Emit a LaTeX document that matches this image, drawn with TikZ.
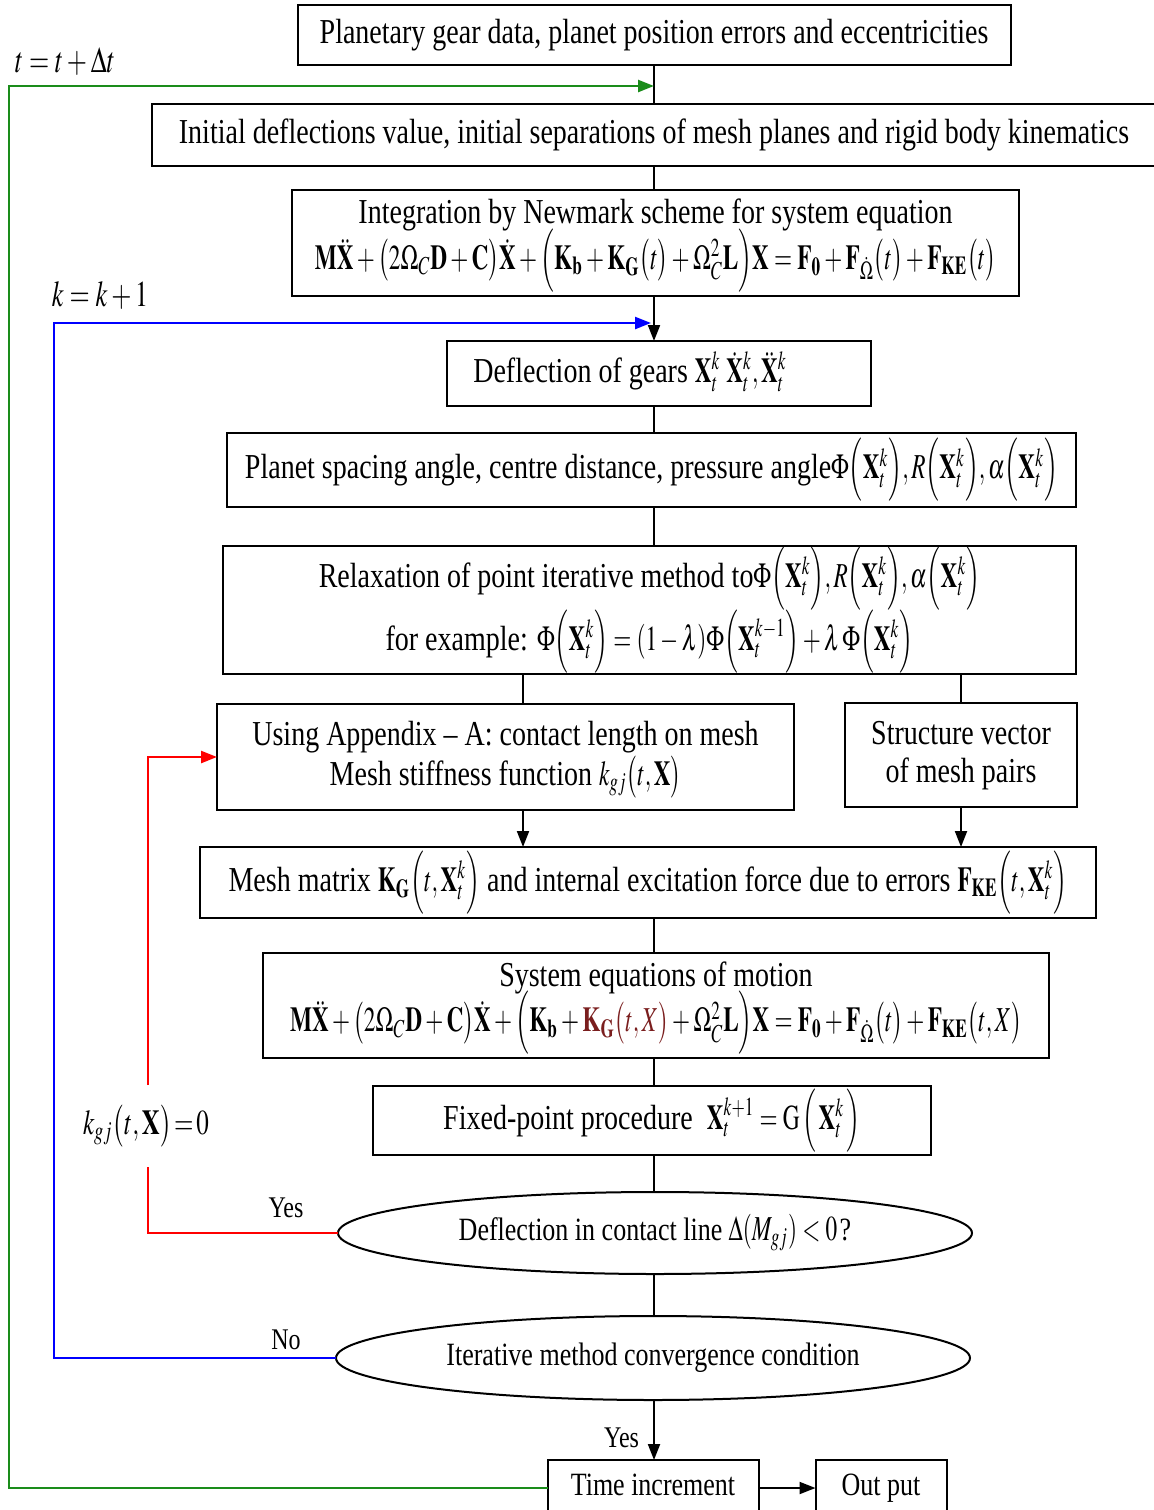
\documentclass[tikz,border=0pt]{standalone}
\usepackage{mathptmx}
\usepackage[no-math]{fontspec}
\setmainfont{Liberation Serif}
\usepackage{graphicx}
\usetikzlibrary{positioning,arrows.meta,shapes.geometric}
\definecolor{loopGreen}{HTML}{1A8C1A}
\definecolor{loopBlue}{HTML}{0000FF}
\definecolor{loopRed}{HTML}{FF0000}
\definecolor{kgRed}{HTML}{7A1E1E}
\newcommand{\tallt}[2][1.25]{\scalebox{1}[#1]{\begin{tabular}{@{}c@{}}#2\end{tabular}}}
\newcommand{\mth}[1]{\scalebox{0.93}[1.12]{\fontsize{12.5}{15}\selectfont\(#1\)}}
\newcommand{\Xtk}{\mathbf{X}_t^k}

\begin{document}
\begin{tikzpicture}[x=0.5pt, y=-0.5pt, >={Triangle[length=8pt,width=6pt]}, line width=1pt,
          box/.style={draw, line width=1pt, inner sep=0pt, outer sep=0pt, font=\fontsize{14}{17}\selectfont},
          oval/.style={ellipse, draw, line width=1pt, inner sep=0pt, outer sep=0pt, minimum width=317pt, font=\fontsize{13}{15}\selectfont},
          lbl/.style={inner sep=1pt, font=\fontsize{12}{14}\selectfont},
          eqlbl/.style={inner sep=1pt, font=\fontsize{13}{15}\selectfont},
          gline/.style={draw=loopGreen, line width=1.2pt},
          bline/.style={draw=loopBlue, line width=1.2pt},
          rline/.style={draw=loopRed, line width=1.2pt}]
        \useasboundingbox (0,0) rectangle (1154,1510);
        \coordinate (spine) at (654,0);
        \node[box, minimum width=356.5pt, minimum height=30pt] (dat) at (654,35) {\tallt{Planetary gear data, planet position errors and eccentricities}};
        \node[box, minimum width=502pt, minimum height=31pt, below=19.5pt of dat] (ini) {\tallt{Initial deflections value, initial separations of mesh planes and rigid body kinematics}};
        \node[box, minimum width=363.5pt, minimum height=53pt, below=12pt of ini, xshift=0.75pt] (nwk) {\tallt{Integration by Newmark scheme for system equation\\[-3pt]
          \mth{\mathbf{M}\ddot{\mathbf{X}}+\bigl(2\Omega_C\mathbf{D}+\mathbf{C}\bigr)\dot{\mathbf{X}}+\Bigl(\mathbf{K}_\mathbf{b}+\mathbf{K}_\mathbf{G}\bigl(t\bigr)+\Omega_C^2\mathbf{L}\Bigr)\mathbf{X}=\mathbf{F}_\mathbf{0}+\mathbf{F}_{\dot{\Omega}}\bigl(t\bigr)+\mathbf{F}_\mathbf{KE}\bigl(t\bigr)}}};
        \node[box, minimum width=212pt, minimum height=32.5pt, below=22.5pt of nwk, xshift=1.75pt] (dfl) {\tallt{Deflection of gears \mth{\Xtk\ \dot{\mathbf{X}}_t^k,\ddot{\mathbf{X}}_t^k}}\hspace*{29pt}};
        \node[box, minimum width=424.5pt, minimum height=37pt, below=13.5pt of dfl, xshift=-3.75pt] (pla) {\tallt{Planet spacing angle, centre distance, pressure angle\mth{\Phi\Bigl(\Xtk\Bigr),R\Bigl(\Xtk\Bigr),\alpha\Bigl(\Xtk\Bigr)}}};
        \node[box, minimum width=426.5pt, minimum height=64pt, below=19.5pt of pla, xshift=-1pt] (rlx) {\tallt{Relaxation of point iterative method to\mth{\Phi\Bigl(\Xtk\Bigr),R\Bigl(\Xtk\Bigr),\alpha\Bigl(\Xtk\Bigr)}\\[1pt]
          for example: \mth{\Phi\Bigl(\Xtk\Bigr)=(1-\lambda)\Phi\Bigl(\mathbf{X}_t^{k-1}\Bigr)+\lambda\,\Phi\Bigl(\Xtk\Bigr)}}};
        \node[box, minimum width=288.5pt, minimum height=53pt, below=15pt of rlx, xshift=-72pt] (app) {\tallt{Using Appendix -- A: contact length on mesh\\[-1pt]
          Mesh stiffness function \mth{k_{gj}\bigl(t,\mathbf{X}\bigr)}}};
        \node[box, minimum width=116pt, minimum height=52pt, right=25.5pt of app, yshift=1pt] (stv) {\tallt{Structure vector\\[-2pt] of mesh pairs}};
        \node[box, minimum width=448pt, minimum height=35.5pt, below=18.5pt of app, xshift=71.25pt] (msh) {\tallt{Mesh matrix \mth{\mathbf{K}_\mathbf{G}\Bigl(t,\Xtk\Bigr)} and internal excitation force due to errors \mth{\mathbf{F}_\mathbf{KE}\Bigl(t,\Xtk\Bigr)}}};
        \node[box, minimum width=393pt, minimum height=52.5pt, below=17.5pt of msh, xshift=4pt] (sys) {\tallt{System equations of motion\\[-3pt]
          \mth{\mathbf{M}\ddot{\mathbf{X}}+\bigl(2\Omega_C\mathbf{D}+\mathbf{C}\bigr)\dot{\mathbf{X}}+\Bigl(\mathbf{K}_\mathbf{b}+\textcolor{kgRed}{\mathbf{K}_\mathbf{G}\bigl(t,X\bigr)}+\Omega_C^2\mathbf{L}\Bigr)\mathbf{X}=\mathbf{F}_\mathbf{0}+\mathbf{F}_{\dot{\Omega}}\bigl(t\bigr)+\mathbf{F}_\mathbf{KE}\bigl(t,X\bigr)}}};
        \node[box, minimum width=279pt, minimum height=34.5pt, below=14pt of sys, xshift=-2pt] (fpp) {\tallt{Fixed-point procedure\ \ \mth{\mathbf{X}_t^{k+1}=\mathrm{G}\,\Bigl(\,\Xtk\,\Bigr)}}};
        \node[oval, minimum height=41pt, below=18.5pt of fpp, xshift=1.5pt] (cnt) {\tallt{Deflection in contact line \mth{\Delta(M_{gj})<0\,}?}};
        \node[oval, minimum height=42pt, below=21pt of cnt, xshift=-1pt] (cnv) {\tallt{Iterative method convergence condition}};
        \node[box, minimum width=105.5pt, minimum height=28pt, below=30pt of cnv, font=\fontsize{13}{15}\selectfont] (tinc) {\tallt{Time increment}};
        \node[box, minimum width=65.5pt, minimum height=28pt, right=28.5pt of tinc, font=\fontsize{13}{15}\selectfont] (outp) {\tallt{Out put}};
        \node[eqlbl] (tlbl) at (65,64) {\tallt[1.4]{\(t=t+\Delta t\)}};
        \node[eqlbl] (klbl) at (100,298) {\tallt[1.4]{\(k=k+1\)}};
        \node[eqlbl, minimum height=40pt, font=\fontsize{12.5}{15}\selectfont] (kzero) at (146,1126) {\tallt[1.4]{\(\thickmuskip=2mu k_{gj}\bigl(t,\mathbf{X}\bigr)=0\)}};
        \node[lbl] (yes1) at (286,1210) {\tallt{Yes}};
        \node[lbl] (no1) at (286,1342) {\tallt{No}};
        \coordinate (gcorner) at (9,86);
        \coordinate (bcorner) at (54,323);
        \coordinate (apin) at ([xshift=8.75pt]app.north);
        \draw (spine |- dat.south) -- (spine |- ini.north);
        \draw (spine |- ini.south) -- (spine |- nwk.north);
        \draw[->] (spine |- nwk.south) -- (spine |- dfl.north);
        \draw (spine |- dfl.south) -- (spine |- pla.north);
        \draw (spine |- pla.south) -- (spine |- rlx.north);
        \draw (rlx.south -| apin) -- (apin);
        \draw (rlx.south -| stv.north) -- (stv.north);
        \draw[->] (app.south -| apin) -- (msh.north -| apin);
        \draw[->] (stv.south) -- (stv.south |- msh.north);
        \draw (spine |- msh.south) -- (spine |- sys.north);
        \draw (spine |- sys.south) -- (spine |- fpp.north);
        \draw (spine |- fpp.south) -- (spine |- cnt.north);
        \draw (spine |- cnt.south) -- (spine |- cnv.north);
        \draw[->] (spine |- cnv.south) -- node[lbl, pos=0.68, left=6pt] (yes2) {\tallt{Yes}} (spine |- tinc.north);
        \draw[->] (tinc.east) -- (outp.west);
        \draw[gline, ->] (tinc.west) -| (gcorner) -- (spine |- gcorner);
        \draw[bline, ->] (cnv.west) -| (bcorner) -- ([xshift=-1.5pt]spine |- bcorner);
        \draw[rline] (cnt.west) -| ([xshift=1pt]kzero.south);
        \draw[rline, ->] ([xshift=1pt]kzero.north) |- (app.west);
      \end{tikzpicture}
\end{document}
